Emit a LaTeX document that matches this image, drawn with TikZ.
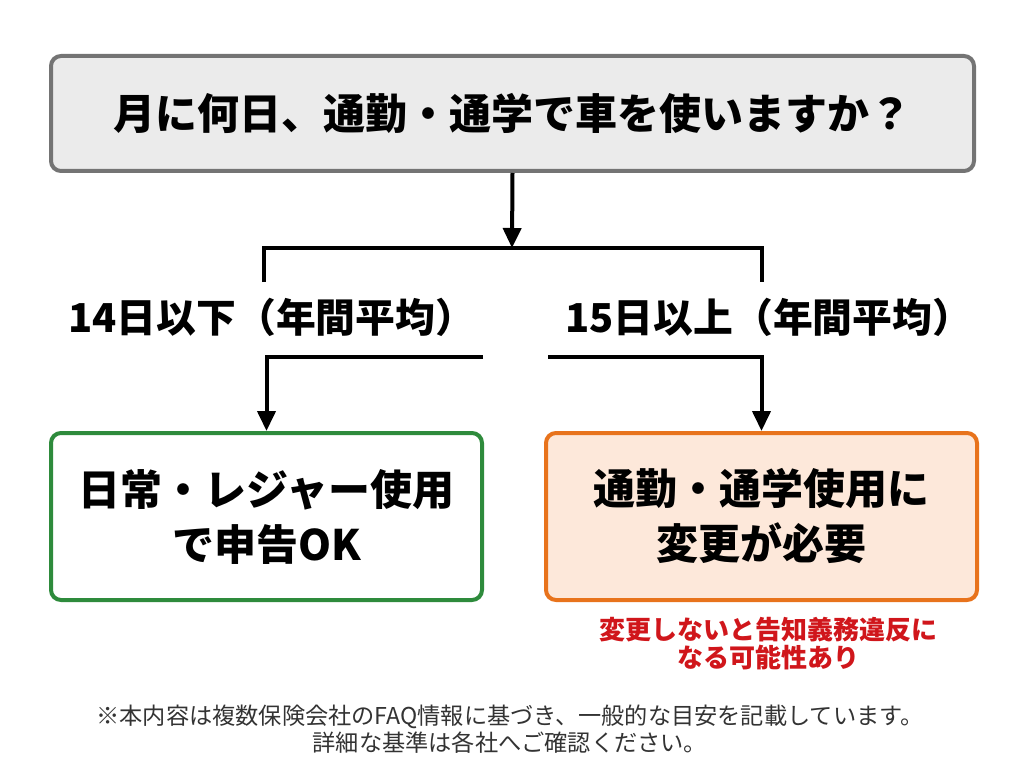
\documentclass[tikz,border=0pt]{standalone}
\usepackage{fontspec}
\setmainfont{Noto Sans CJK JP}
\usetikzlibrary{arrows.meta}
\definecolor{qgray}{HTML}{EBEBEB}
\definecolor{qline}{HTML}{747474}
\definecolor{okgreen}{HTML}{2E8B3C}
\definecolor{ngorange}{HTML}{E8731C}
\definecolor{ngfill}{HTML}{FDE8DA}
\definecolor{warnred}{HTML}{D0161B}
\definecolor{notegray}{HTML}{333333}
\tikzset{
  box/.style={draw, line width=2pt, rounded corners=5pt, align=center,
    font=\fontsize{21}{27.5}\selectfont\bfseries},
  qbox/.style={box, draw=qline, fill=qgray, minimum width=461.5pt, minimum height=57.5pt},
  okbox/.style={box, draw=okgreen, fill=white, minimum width=215.5pt, minimum height=83.5pt},
  ngbox/.style={box, draw=ngorange, fill=ngfill, minimum width=215.5pt, minimum height=83.5pt},
  cond/.style={anchor=west, inner sep=0pt, font=\fontsize{19.9}{24}\selectfont\bfseries},
  flow/.style={line width=2pt},
  tip/.style={flow, -{Triangle[width=9pt,length=10pt]}},
}
\begin{document}
\begin{tikzpicture}[x=0.5pt, y=-0.5pt]
                \useasboundingbox (0,0) rectangle (1024,765);
                % question
                \node[qbox] (q) at (512.5,113.5) {月に何日、通勤・通学で車を使いますか？};
                \coordinate (split) at (512,248);
                \coordinate (lt) at (264,282);
                \coordinate (rt) at (762,282);
                \draw[tip] (q.south) -- (split);
                \draw[flow] (lt) |- (split) -| (rt);

                % conditions
                \node[cond] (c14) at (68,317) {14日以下（年間平均）};
                \node[cond] (c15) at (565,317) {15日以上（年間平均）};

                % results
                \node[okbox] (ok) at (266.5,516.5) {日常・レジャー使用\\で申告OK};
                \node[ngbox] (ng) at (761.5,516.5) {通勤・通学使用に\\変更が必要};
                \coordinate (ll) at (483,357);
                \coordinate (rl) at (548,357);
                \draw[tip] (ll) -| (ok.north);
                \draw[tip] (rl) -| (ng.north);

                \node[text=warnred, align=center, font=\fontsize{13}{14}\selectfont\bfseries]
                    (warn) at (768,644) {変更しないと告知義務違反に\\なる可能性あり};
                %\draw[->] (ng) -- (warn);

                % note
                \node[text=notegray, align=center, font=\fontsize{11.6}{13.5}\selectfont]
                    (note) at (510,729) {※本内容は複数保険会社のFAQ情報に基づき、一般的な目安を記載しています。\\詳細な基準は各社へご確認ください。};
            \end{tikzpicture}
\end{document}
